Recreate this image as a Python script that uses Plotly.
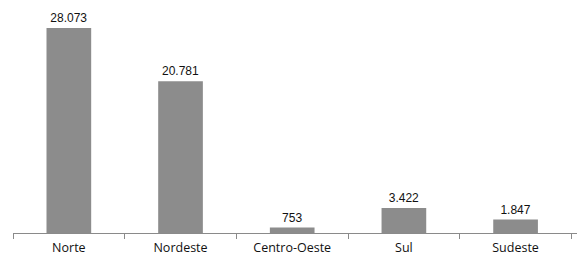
import plotly.graph_objects as go

regions = ["Norte", "Nordeste", "Centro-Oeste", "Sul", "Sudeste"]
values = [28073, 20781, 753, 3422, 1847]

fig = go.Figure(go.Bar(
    x=regions, y=values,
    marker=dict(color="#8c8c8c", line=dict(width=0)),
    width=0.4,
    texttemplate="%{y:,}",
    textposition="outside",
    textfont=dict(family="Liberation Sans, Arial", size=12, color="#111111"),
    cliponaxis=False,
))

fig.update_layout(
    width=586, height=279,
    margin=dict(l=5, r=17, t=3, b=54),
    paper_bgcolor="white", plot_bgcolor="white",
    separators=",.",
    showlegend=False,
    bargap=0.6,
)
fig.update_xaxes(
    range=[-0.5, 4.55],
    showline=True, linecolor="#8a8a8a", linewidth=1,
    ticks="outside", tickson="boundaries", ticklen=5, tickcolor="#8a8a8a",
    tickfont=dict(family="Open Sans, Noto Sans", size=12.5, color="#111111"),
    ticklabelstandoff=3,
    showgrid=False, zeroline=False,
)
fig.update_yaxes(range=[0, 30400], visible=False, showgrid=False, zeroline=False)

fig.write_html("out.html")
